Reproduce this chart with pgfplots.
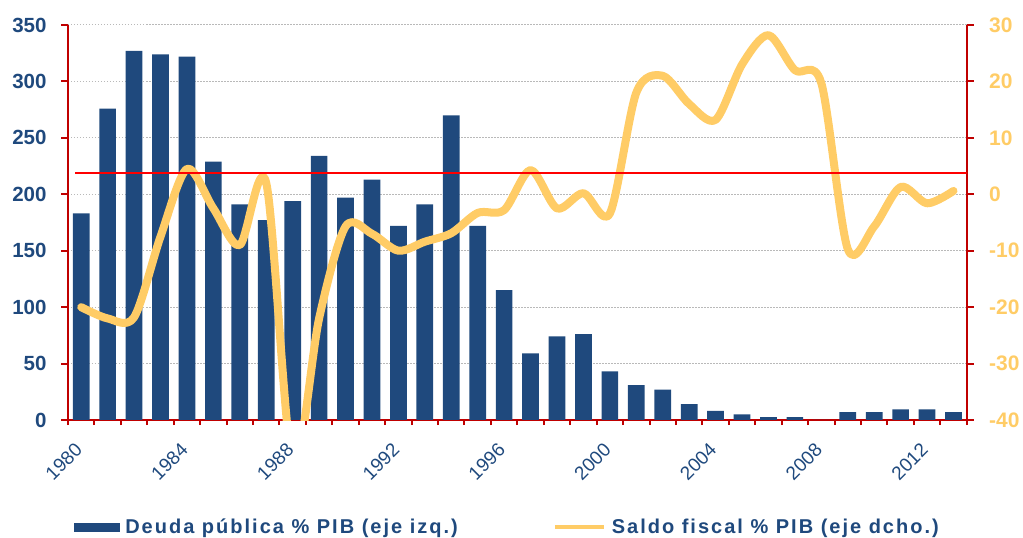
\documentclass[border=0pt]{standalone}
\usepackage{pgfplots}
\pgfplotsset{compat=1.18}
\usepackage{fontspec}
\setmainfont{Liberation Sans}
\definecolor{bar}{RGB}{31,73,125}
\definecolor{ylw}{RGB}{255,204,102}
\definecolor{axred}{RGB}{192,0,0}
\definecolor{gridg}{RGB}{185,185,185}
\pgfplotstableread{
year debt
1980 183
1981 276
1982 327
1983 324
1984 322
1985 229
1986 191
1987 177
1988 194
1989 234
1990 197
1991 213
1992 172
1993 191
1994 270
1995 172
1996 115
1997 59
1998 74
1999 76
2000 43
2001 31
2002 27
2003 14
2004 8
2005 5
2006 2.5
2007 2.5
2008 0
2009 7
2010 7
2011 9.5
2012 9.5
2013 7
}\debt
\pgfplotstableread{
year bal
1980 -20
1981 -22
1982 -21.8
1983 -7.5
1984 4.5
1985 -2.5
1986 -9
1987 2
1988 -48
1989 -22
1990 -5.7
1991 -7
1992 -10
1993 -8.4
1994 -6.9
1995 -3.3
1996 -2.8
1997 4.3
1998 -2.5
1999 0.2
2000 -3.4
2001 18
2002 21
2003 16
2004 13.2
2005 23
2006 28.2
2007 22
2008 19.7
2009 -9.7
2010 -5.7
2011 1.3
2012 -1.6
2013 0.6
}\bal
\begin{document}
\begin{tikzpicture}
\path[use as bounding box] (-68pt,-118pt) rectangle (955pt,420pt);
\begin{axis}[
  at={(0,0)}, anchor=south west,
  scale only axis, width=898.7pt, height=395pt,
  xmin=1979.5, xmax=2013.5, ymin=0, ymax=350,
  axis x line*=bottom, axis y line*=left,
  axis line style={axred, line width=2pt},
  tick align=outside,
  ytick={0,50,...,350},
  major tick length=7pt, minor tick length=5pt,
  ytick style={axred, line width=2pt},
  xtick={1980,1984,...,2012},
  minor xtick={1979.5,1980.5,...,2013.5},
  major x tick style={draw=none},
  minor x tick style={axred, line width=2pt},
  ymajorgrids,
  major grid style={gridg, line width=1pt, dash pattern=on 1.5pt off 1.5pt},
  /pgf/number format/assume math mode=true,
  /pgf/number format/1000 sep={},
  yticklabel style={font=\fontsize{20.5}{21}\selectfont\bfseries, text=bar, xshift=-11pt},
  xticklabel style={font=\fontsize{19}{19}\selectfont, text=bar, yshift=-17pt, rotate=45, anchor=east},
  clip=false,
]
\addplot[ybar, bar width=16.7pt, fill=bar, draw=none] table[x=year, y=debt] {\debt};
\end{axis}
\begin{axis}[
  at={(0,0)}, anchor=south west,
  scale only axis, width=898.7pt, height=395pt,
  xmin=1979.5, xmax=2013.5, ymin=-40, ymax=30,
  axis x line=none, axis y line*=right,
  axis line style={axred, line width=2pt},
  tick align=outside,
  major tick length=7pt,
  ytick={-40,-30,...,30},
  ytick style={axred, line width=2pt},
  /pgf/number format/assume math mode=true,
  yticklabel style={font=\fontsize{21}{21}\selectfont\bfseries, text=ylw, xshift=12pt},
  legend columns=2,
  legend cell align=left,
  legend style={draw=none, fill=none, at={(0.5,0)}, anchor=center, xshift=-10pt, yshift=-107pt,
    font=\fontsize{20}{24}\selectfont\bfseries\addfontfeature{LetterSpace=10}, text=bar,
    /tikz/every even column/.append style={column sep=93pt},
    /tikz/every odd column/.append style={column sep=4pt}},
]
\addlegendimage{legend image code/.code={\fill[bar] (0pt,-4pt) rectangle (45pt,4pt);}}
\addlegendentry{Deuda pública \% PIB (eje izq.)}
\addlegendimage{legend image code/.code={\draw[ylw, line width=4pt] (0pt,0pt) -- (49pt,0pt);}}
\addlegendentry{Saldo fiscal \% PIB (eje dcho.)}
\addplot[ylw, line width=8pt, smooth, tension=0.5, line cap=round, line join=round, forget plot] table[x=year, y=bal] {\bal};
\addplot[red, line width=2pt, forget plot] coordinates {(1979.77,3.77) (2013.5,3.77)};
\end{axis}
\end{tikzpicture}
\end{document}
